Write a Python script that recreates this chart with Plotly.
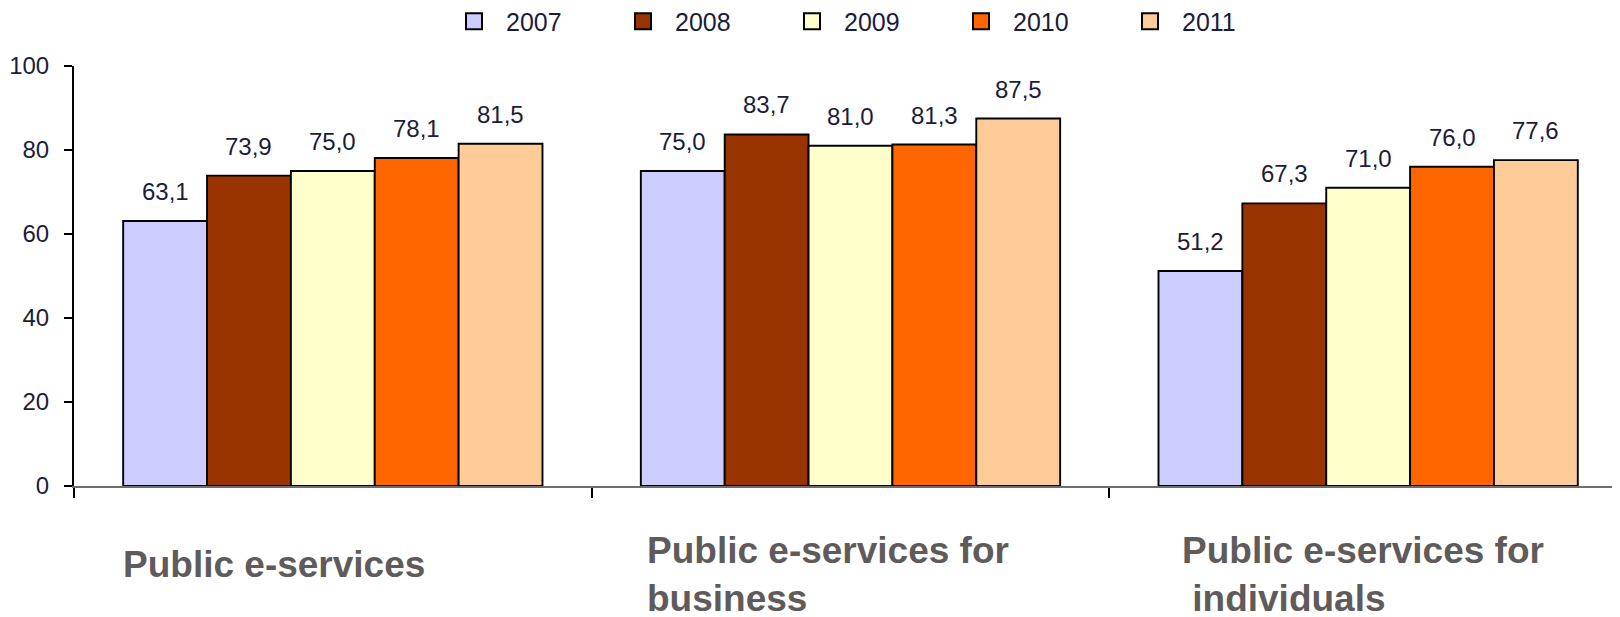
import plotly.graph_objects as go

categories = ["Public e-services", "Public e-services for business", "Public e-services for individuals"]
category_labels = ["Public e-services", "Public e-services for<br>business", "Public e-services for<br>\u00a0individuals"]
years = ["2007", "2008", "2009", "2010", "2011"]
values_2007 = [63.1, 75.0, 51.2]
values_2008 = [73.9, 83.7, 67.3]
values_2009 = [75.0, 81.0, 71.0]
values_2010 = [78.1, 81.3, 76.0]
values_2011 = [81.5, 87.5, 77.6]
series = [values_2007, values_2008, values_2009, values_2010, values_2011]
colors = ["#CCCCFF", "#993300", "#FFFFCC", "#FF6600", "#FFCC99"]
y_ticks = [0, 20, 40, 60, 80, 100]

FONT = "Liberation Sans, Arial, sans-serif"
LABEL_COLOR = "#1c1c3a"
W, H = 1620, 617
OFF = 8  # page body margin
ML, MR, MT = 66, 8, 58
MB = H - (485.7 - OFF)
BARGAP = 0.19

fig = go.Figure()
for yr, vals, col in zip(years, series, colors):
    fig.add_trace(go.Bar(
        name=yr, x=categories, y=vals,
        marker=dict(color=col, line=dict(color="#000000", width=1.9)),
        showlegend=False,
    ))
# legend entries (square symbols)
for yr, col in zip(years, colors):
    fig.add_trace(go.Scatter(
        name=yr, x=[None], y=[None], mode="markers",
        marker=dict(symbol="square", size=16, color=col, line=dict(color="#000000", width=2)),
        showlegend=True,
    ))

annotations = []
n = len(years)
gw = 1 - BARGAP
for j, vals in enumerate(series):
    off = -gw / 2 + (j + 0.5) * gw / n
    for i, v in enumerate(vals):
        annotations.append(dict(
            x=i + off, y=v, xref="x", yref="y",
            text=f"{v:.1f}".replace(".", ","),
            showarrow=False, yanchor="bottom", xanchor="center", yshift=14,
            font=dict(family=FONT, size=24, color=LABEL_COLOR),
        ))

plot_w = W - ML - MR
plot_h = H - MT - MB
def px_x(p):
    # p: page pixel
    return (p - OFF - ML) / plot_w
def px_y(p):
    return (H - MB - (p - OFF)) / plot_h

label_pos = [(121, 541.5), (645, 527.5), (1180, 527.5)]
for lab, (lx, ly) in zip(category_labels, label_pos):
    annotations.append(dict(
        x=px_x(lx), y=px_y(ly), xref="paper", yref="paper",
        text=lab, showarrow=False, xanchor="left", yanchor="top", align="left",
        font=dict(family=FONT, size=37, color="#5f5b5b", weight="bold"),
    ))

fig.update_layout(
    width=W, height=H,
    margin=dict(l=ML, r=MR, t=MT, b=MB, pad=0, autoexpand=False),
    paper_bgcolor="white", plot_bgcolor="white",
    barmode="group", bargap=BARGAP, bargroupgap=0,
    font=dict(family=FONT, size=24, color=LABEL_COLOR),
    showlegend=True,
    legend=dict(
        orientation="h", x=px_x(442), y=px_y(21.5), xanchor="left", yanchor="middle",
        font=dict(family=FONT, size=25, color=LABEL_COLOR),
        itemwidth=54, entrywidth=100, bgcolor="rgba(0,0,0,0)",
    ),
    annotations=annotations,
)
fig.update_xaxes(
    type="category", range=[-0.5, 2.4865],
    showticklabels=False, showgrid=False, zeroline=False,
    showline=True, linecolor="#6e6e6e", linewidth=2,
    ticks="outside", tickson="boundaries", ticklen=10, tickwidth=2, tickcolor="#000000",
    automargin=False,
)
fig.update_yaxes(
    range=[0, 100], tickvals=y_ticks, ticktext=[str(t) for t in y_ticks],
    showgrid=False, zeroline=False,
    showline=True, linecolor="#000000", linewidth=2,
    ticks="outside", ticklen=8, tickwidth=2, tickcolor="#000000",
    ticklabelstandoff=10, automargin=False,
    tickfont=dict(family=FONT, size=24, color=LABEL_COLOR),
)

fig.write_html("out.html")
